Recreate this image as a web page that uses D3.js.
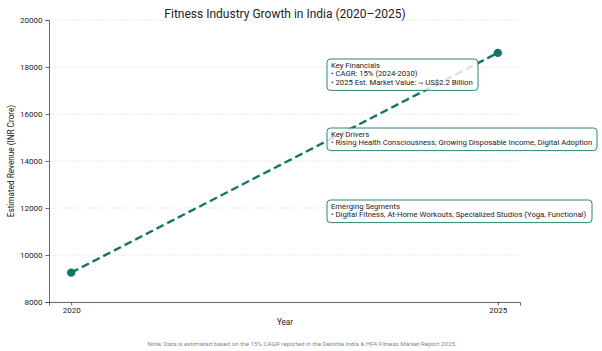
<!DOCTYPE html>
<html><head><meta charset="utf-8">
<script src="https://cdn.jsdelivr.net/npm/d3@7"></script>
<style>body{margin:0;background:#fff}svg{font-family:Roboto,"Open Sans",sans-serif}</style>
</head><body><svg id="c" width="602" height="351"></svg>
<script>
const years = [2020, 2025];
const revenue = [9250, 18600];
const yTicks = [8000, 10000, 12000, 14000, 16000, 18000, 20000];
const xTicks = [2020, 2025];
const notes = [
  {title: "Key Financials", lines: ["• CAGR: 15% (2024-2030)", "• 2025 Est. Market Value:  ~ US$2.2 Billion"]},
  {title: "Key Drivers", lines: ["• Rising Health Consciousness, Growing Disposable Income, Digital Adoption"]},
  {title: "Emerging Segments", lines: ["• Digital Fitness, At-Home Workouts, Specialized Studios (Yoga, Functional)"]}
];
const color = "#127667";
const svg = d3.select("#c");
const m = {l: 49, r: 520, t: 20, b: 302};
const x = d3.scaleLinear().domain([2019.74, 2025.26]).range([m.l, m.r]);
const y = d3.scaleLinear().domain([8000, 20000]).range([m.b, m.t]);

// grid
svg.append("g").selectAll("line").data(yTicks).join("line")
  .attr("x1", m.l).attr("x2", m.r).attr("y1", d => y(d)).attr("y2", d => y(d))
  .attr("stroke", "#d4d4d4").attr("stroke-width", 0.6).attr("stroke-dasharray", "1.5,1.5");

// axes
const ya = svg.append("g").attr("transform", `translate(${m.l},0)`)
  .call(d3.axisLeft(y).tickValues(yTicks).tickSize(3.5).tickPadding(3).tickFormat(d3.format("d")));
const xa = svg.append("g").attr("transform", `translate(0,${m.b})`)
  .call(d3.axisBottom(x).tickValues(xTicks).tickSize(3.5).tickPadding(2).tickFormat(d3.format("d")));
[ya, xa].forEach(a => {
  a.selectAll(".domain").attr("stroke", "#444").attr("stroke-width", 0.8);
  a.selectAll(".tick line").attr("stroke", "#444").attr("stroke-width", 0.8);
  a.selectAll("text").attr("fill", "#222").style("font-size", "8px").style("font-family", "Roboto,sans-serif");
});

// line
const pts = years.map((yr, i) => [yr, revenue[i]]);
svg.append("path").datum(pts)
  .attr("d", d3.line().x(d => x(d[0])).y(d => y(d[1])))
  .attr("fill", "none").attr("stroke", color).attr("stroke-width", 2.4).attr("stroke-dasharray", "8,4");
svg.append("g").selectAll("circle").data(pts).join("circle")
  .attr("cx", d => x(d[0])).attr("cy", d => y(d[1])).attr("r", 4.2).attr("fill", color);

// annotation boxes
const boxPos = [{x: 327, y: 59, w: 151}, {x: 327, y: 128, w: 270}, {x: 327, y: 200, w: 265}];
notes.forEach((n, i) => {
  const p = boxPos[i];
  const h = 9 + (n.lines.length + 1) * 8.8 - 4;
  const g = svg.append("g");
  g.append("rect").attr("x", p.x).attr("y", p.y).attr("width", p.w).attr("height", h)
    .attr("rx", 3.5).attr("fill", "rgba(255,255,255,0.82)").attr("stroke", color).attr("stroke-width", 0.9);
  const t = g.append("text").attr("x", p.x + 4).attr("y", p.y + 8.5)
    .style("font-size", "7.7px").attr("fill", "#222");
  [n.title, ...n.lines].forEach((l, j) => {
    t.append("tspan").attr("x", p.x + 4).attr("dy", j === 0 ? 0 : 8.8).text(l);
  });
});

// titles
svg.append("text").attr("x", 285).attr("y", 18).attr("text-anchor", "middle")
  .style("font-size", "12px").attr("fill", "#222").text("Fitness Industry Growth in India (2020–2025)");
svg.append("text").attr("transform", `translate(14,${(m.t + m.b) / 2}) rotate(-90)`).attr("text-anchor", "middle")
  .style("font-size", "8.2px").attr("fill", "#222").text("Estimated Revenue (INR Crore)");
svg.append("text").attr("x", 285).attr("y", 325).attr("text-anchor", "middle")
  .style("font-size", "8.2px").attr("fill", "#222").text("Year");
svg.append("text").attr("x", 302).attr("y", 346).attr("text-anchor", "middle")
  .style("font-size", "6.2px").attr("fill", "#888").text("Note: Data is estimated based on the 15% CAGR reported in the Deloitte India & HFA Fitness Market Report 2025.");
</script></body></html>
